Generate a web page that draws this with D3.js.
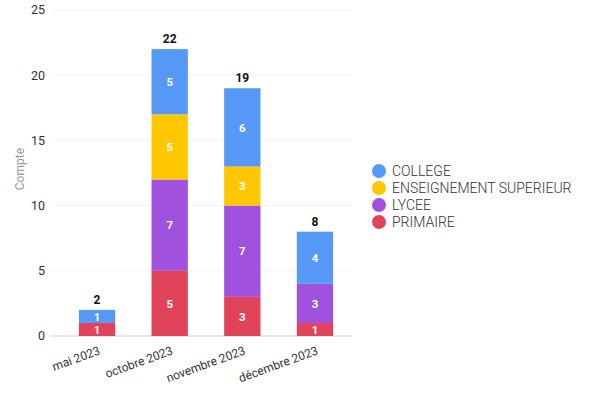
<!DOCTYPE html>
<html>
<head>
<meta charset="utf-8">
<script src="https://cdn.jsdelivr.net/npm/d3@7"></script>
<style>
  body { margin: 0; background: #fff; }
  svg { font-family: Roboto, "Noto Sans", sans-serif; }
</style>
</head>
<body>
<svg width="594" height="396"></svg>
<script>
// months on the x axis
var months = ["mai 2023", "octobre 2023", "novembre 2023", "décembre 2023"];
// series, bottom to top of each stack
var seriesNames = ["PRIMAIRE", "LYCEE", "ENSEIGNEMENT SUPERIEUR", "COLLEGE"];
var primaire = [1, 5, 3, 1];
var lycee = [0, 7, 7, 3];
var superieur = [0, 5, 3, 0];
var college = [1, 5, 6, 4];
var yTicks = [0, 5, 10, 15, 20, 25];
var legendOrder = ["COLLEGE", "ENSEIGNEMENT SUPERIEUR", "LYCEE", "PRIMAIRE"];

var colors = {
    "PRIMAIRE": "#e0435a",
    "LYCEE": "#a052de",
    "ENSEIGNEMENT SUPERIEUR": "#ffc700",
    "COLLEGE": "#5598f5"
};

let rows = months.map((m, i) => ({
    month: m,
    "PRIMAIRE": primaire[i],
    "LYCEE": lycee[i],
    "ENSEIGNEMENT SUPERIEUR": superieur[i],
    "COLLEGE": college[i]
}));

let svg = d3.select("svg");

let x = d3.scaleBand().domain(months).range([60, 352]).paddingInner(0.5).paddingOuter(0.26);
let y = d3.scaleLinear().domain([0, 25]).range([336, 10]);

// grid
svg.append("g").selectAll("line")
    .data(yTicks)
    .enter().append("line")
    .attr("x1", 50).attr("x2", 352)
    .attr("y1", d => y(d)).attr("y2", d => y(d))
    .attr("stroke", d => d === 0 ? "#e6e6ec" : "#f3f3f3")
    .attr("stroke-width", d => d === 0 ? 2 : 1);

// y tick labels
svg.append("g").selectAll("text")
    .data(yTicks)
    .enter().append("text")
    .attr("x", 45).attr("y", d => y(d))
    .attr("dy", "0.35em")
    .attr("text-anchor", "end")
    .attr("font-size", 12.5)
    .attr("fill", "#333")
    .text(d => d);

svg.append("text")
    .attr("transform", "translate(24," + y(12.8) + ") rotate(-90)")
    .attr("text-anchor", "middle")
    .attr("font-size", 12)
    .attr("fill", "#999")
    .text("Compte");

let stack = d3.stack().keys(seriesNames);
let layers = stack(rows);

let layer = svg.append("g").selectAll("g")
    .data(layers)
    .enter().append("g")
    .attr("fill", d => colors[d.key]);

layer.selectAll("rect")
    .data(d => d.filter(s => s[1] > s[0]))
    .enter().append("rect")
    .attr("x", d => x(d.data.month))
    .attr("width", x.bandwidth())
    .attr("y", d => y(d[1]))
    .attr("height", d => y(d[0]) - y(d[1]));

layer.selectAll("text")
    .data(d => d.filter(s => s[1] > s[0]))
    .enter().append("text")
    .attr("x", d => x(d.data.month) + x.bandwidth() / 2)
    .attr("y", d => (y(d[0]) + y(d[1])) / 2)
    .attr("dy", "0.36em")
    .attr("text-anchor", "middle")
    .attr("font-size", 11.5)
    .attr("font-weight", "bold")
    .attr("fill", "#fff")
    .text(d => d[1] - d[0]);

// totals
svg.append("g").selectAll("text")
    .data(rows)
    .enter().append("text")
    .attr("x", d => x(d.month) + x.bandwidth() / 2)
    .attr("y", d => y(d3.sum(seriesNames, k => d[k])) - 6)
    .attr("text-anchor", "middle")
    .attr("font-size", 12)
    .attr("font-weight", "bold")
    .attr("fill", "#111")
    .text(d => d3.sum(seriesNames, k => d[k]));

// x labels
svg.append("g").selectAll("text")
    .data(months)
    .enter().append("text")
    .attr("transform", d => "translate(" + (x(d) + x.bandwidth() / 2 + 1) + ",346) rotate(-20)")
    .attr("dy", "0.7em")
    .attr("text-anchor", "end")
    .attr("font-size", 12)
    .attr("fill", "#333")
    .text(d => d);

// legend
let legend = svg.append("g").selectAll("g")
    .data(legendOrder)
    .enter().append("g")
    .attr("transform", (d, i) => "translate(379," + (171 + i * 17) + ")");

legend.append("circle")
    .attr("r", 7)
    .attr("fill", d => colors[d]);

legend.append("text")
    .attr("x", 13)
    .attr("dy", "0.36em")
    .attr("font-size", 14)
    .attr("font-weight", 300)
    .attr("fill", "#333")
    .text(d => d);
</script>
</body>
</html>
